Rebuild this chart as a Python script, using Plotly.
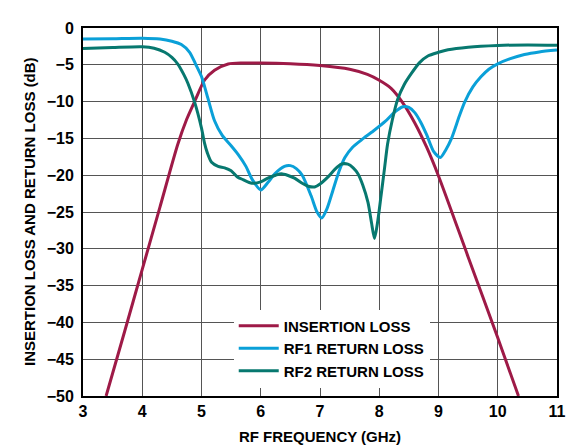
import plotly.graph_objects as go

# Insertion loss
freq_il = [3.39, 3.7, 4.0, 4.3, 4.6, 4.75, 4.9, 5.05, 5.22, 5.45, 5.7, 6.0, 6.5, 7.0, 7.5,
           7.8, 8.0, 8.2, 8.4, 8.6, 8.8, 9.0, 9.5, 10.0, 10.35]
il = [-50, -41.3, -32.8, -24.3, -15.8, -12.4, -9.7, -7.1, -5.75, -4.9, -4.76, -4.75, -4.85,
      -5.1, -5.6, -6.3, -7.1, -8.2, -10.2, -12.9, -16.2, -20.1, -31.1, -42.1, -50]

# RF1 return loss
freq_rf1 = [3.0, 3.5, 4.0, 4.3, 4.5, 4.66, 4.8, 4.9, 5.0, 5.11, 5.22, 5.35, 5.5, 5.62, 5.75,
            5.85, 6.0, 6.12, 6.25, 6.4, 6.5, 6.6, 6.7, 6.85, 6.95, 7.03, 7.12, 7.22, 7.32,
            7.42, 7.55, 7.7, 7.9, 8.1, 8.25, 8.4, 8.5, 8.6, 8.7, 8.8, 8.92, 9.03, 9.12,
            9.22, 9.35, 9.44, 9.58, 9.72, 9.85, 10.0, 10.2, 10.45, 10.7, 11.0]
rf1 = [-1.5, -1.45, -1.38, -1.5, -1.8, -2.25, -3.3, -4.9, -6.6, -9.6, -12.6, -14.6, -16.0,
       -17.2, -18.8, -20.5, -22.0, -21.0, -19.7, -18.8, -18.7, -19.1, -20.0, -22.8, -25.0,
       -25.8, -24.5, -22.0, -19.5, -17.6, -16.2, -15.2, -14.0, -12.7, -11.5, -10.7, -10.8,
       -11.5, -12.8, -14.5, -16.8, -17.6, -16.6, -15.0, -12.0, -10.1, -8.0, -6.6, -5.6,
       -4.87, -4.2, -3.6, -3.25, -3.0]

# RF2 return loss
freq_rf2 = [3.0, 3.5, 4.0, 4.2, 4.38, 4.5, 4.6, 4.7, 4.77, 4.885, 5.0, 5.05, 5.1, 5.17,
            5.28, 5.39, 5.5, 5.6, 5.7, 5.85, 6.0, 6.12, 6.25, 6.35, 6.45, 6.57, 6.7,
            6.8, 6.91, 7.0, 7.14, 7.25, 7.36, 7.47, 7.56, 7.64, 7.72, 7.81, 7.87, 7.92,
            7.97, 8.03, 8.09, 8.14, 8.22, 8.31, 8.42, 8.54, 8.68, 8.82, 9.0, 9.16, 9.5,
            10.0, 10.5, 11.0]
rf2 = [-2.8, -2.65, -2.55, -2.75, -3.3, -4.0, -4.9, -6.3, -7.5, -10.1, -13.6, -15.6, -17.0,
       -18.25, -18.8, -19.0, -19.4, -20.2, -20.6, -21.1, -20.9, -20.4, -20.0, -19.8,
       -20.0, -20.4, -21.1, -21.5, -21.6, -21.2, -20.2, -19.2, -18.5, -18.5, -19.0, -19.8,
       -21.3, -23.7, -26.5, -28.6, -26.5, -22.8, -19.0, -15.8, -12.5, -9.7, -7.7, -6.2,
       -4.7, -3.8, -3.3, -2.95, -2.6, -2.37, -2.3, -2.35]

names = ["INSERTION LOSS", "RF1 RETURN LOSS", "RF2 RETURN LOSS"]
colors = ["#9E1A47", "#0AA0D8", "#07786F"]

x_ticks = [3, 4, 5, 6, 7, 8, 9, 10, 11]
y_ticks = [0, -5, -10, -15, -20, -25, -30, -35, -40, -45, -50]

y_title = "INSERTION LOSS AND RETURN LOSS (dB)"
x_title = "RF FREQUENCY (GHz)"

FONT = "Liberation Sans, Arial, sans-serif"

fig = go.Figure()
for xs, ys, nm, c in [(freq_il, il, names[0], colors[0]),
                      (freq_rf1, rf1, names[1], colors[1]),
                      (freq_rf2, rf2, names[2], colors[2])]:
    fig.add_trace(go.Scatter(x=xs, y=ys, name=nm, mode="lines",
                             line=dict(color=c, width=3, shape="spline", smoothing=0.7)))

fig.update_layout(
    width=577, height=447,
    margin=dict(l=75, r=28, t=13, b=54),
    paper_bgcolor="white", plot_bgcolor="white",
    font=dict(family=FONT, size=15, color="black", weight="bold"),
    legend=dict(x=0.318, y=0.235, xanchor="left", yanchor="top",
                bgcolor="white", borderwidth=0,
                font=dict(family=FONT, size=15, color="black", weight="bold"),
                tracegroupgap=0, itemwidth=40),
    showlegend=True,
    annotations=[dict(text=y_title, textangle=-90, xref="paper", yref="paper",
                      x=0, y=0.5, xanchor="center", yanchor="middle", xshift=-54,
                      showarrow=False,
                      font=dict(family=FONT, size=15, color="black", weight="bold"))],
)
fig.update_xaxes(range=[3, 11], tickvals=x_ticks, showgrid=True, gridcolor="#555555",
                 gridwidth=1, showline=True, linecolor="black", linewidth=2, mirror=True,
                 ticks="", zeroline=False,
                 title=dict(text=x_title, standoff=12,
                            font=dict(size=15, weight="bold")),
                 tickfont=dict(size=16, weight="bold"))
fig.update_yaxes(range=[-50, 0], tickvals=y_ticks, showgrid=True, gridcolor="#555555",
                 gridwidth=1, showline=True, linecolor="black", linewidth=2, mirror=True,
                 ticks="", zeroline=False, ticklabelstandoff=4,
                 tickfont=dict(size=16, weight="bold"))

fig.write_html("out.html")
